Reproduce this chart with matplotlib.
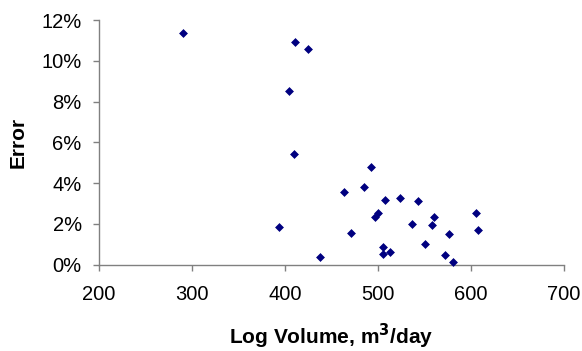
import matplotlib
matplotlib.use("Agg")
import matplotlib.pyplot as plt
from matplotlib.ticker import FuncFormatter

plt.rcParams['font.family'] = ['Liberation Sans', 'DejaVu Sans']

log_volume = [290.3, 411.1, 424.7, 404.0, 409.4, 393.2, 492.1, 463.1, 484.6, 471.0,
              438.0, 507.2, 523.3, 543.4, 500.0, 497.1, 536.9, 557.7, 560.2, 576.7,
              605.4, 607.9, 505.0, 505.0, 512.9, 550.5, 571.7, 581.0]
error_pct = [11.36, 10.92, 10.59, 8.50, 5.41, 1.83, 4.79, 3.55, 3.81, 1.57,
             0.38, 3.16, 3.27, 3.11, 2.55, 2.34, 2.01, 1.96, 2.32, 1.52,
             2.55, 1.69, 0.85, 0.52, 0.61, 1.00, 0.49, 0.15]
x_ticks = [200, 300, 400, 500, 600, 700]
y_ticks = [0, 2, 4, 6, 8, 10, 12]

fig = plt.figure(figsize=(5.82, 3.51), dpi=100)
ax = fig.add_axes([99/582, 1 - 264.7/351, (564-99)/582, (264.7-20)/351])

ax.scatter(log_volume, [e/100 for e in error_pct], marker='D', s=16,
           color='#000080', edgecolors='#000080', linewidths=0.5, zorder=3,
           clip_on=False)

ax.set_xlim(200, 700)
ax.set_ylim(0, 0.12)
ax.set_xticks(x_ticks)
ax.set_yticks([v/100 for v in y_ticks])
ax.yaxis.set_major_formatter(FuncFormatter(lambda v, p: f"{v*100:.0f}%"))

for s in ['top', 'right']:
    ax.spines[s].set_visible(False)
for s in ['left', 'bottom']:
    ax.spines[s].set_color('#808080')
    ax.spines[s].set_linewidth(1.0)
ax.tick_params(axis='both', direction='out', length=4.5, width=1, color='#808080',
               labelsize=14.5, labelcolor='black')
ax.tick_params(axis='y', pad=8)
ax.tick_params(axis='x', pad=10)

ax.set_xlabel('Log Volume, m$^\\mathbf{3}$/day', fontsize=15, fontweight='bold', labelpad=13)
ax.set_ylabel('Error', fontsize=15, fontweight='bold', labelpad=10)

fig.savefig('out.png', dpi=100)
